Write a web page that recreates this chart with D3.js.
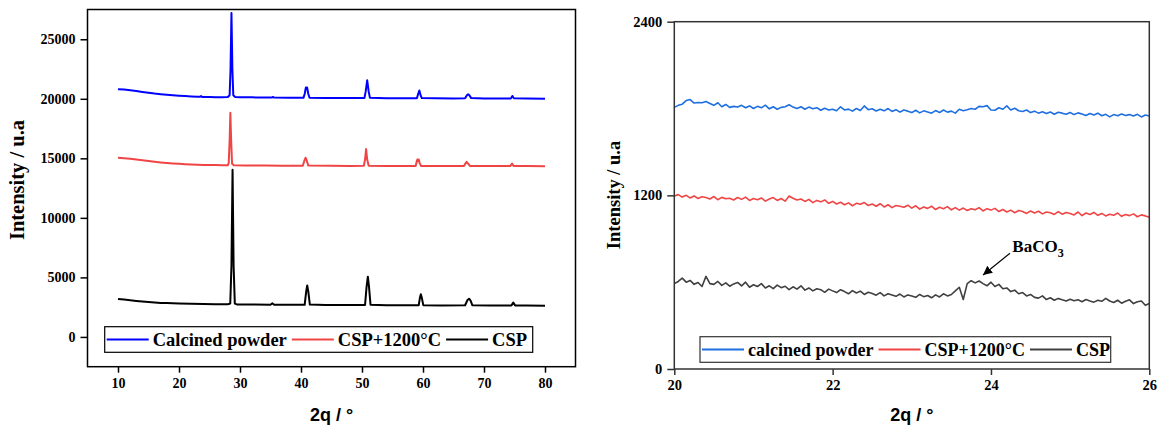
<!DOCTYPE html>
<html>
<head>
<meta charset="utf-8">
<script src="https://cdn.jsdelivr.net/npm/d3@7"></script>
<style>
  html, body { margin: 0; padding: 0; background: #fff; }
  svg { display: block; }
</style>
</head>
<body>
<svg id="chart" width="1160" height="427"></svg>
<script>
// ---------------- DATA ----------------
// Left panel: full XRD patterns, [2theta, intensity]
const seriesNamesLeft = ["Calcined powder", "CSP+1200°C", "CSP"];
const calcinedFull = [[10,20810],[11,20780],[12,20720],[13,20650],[14,20580],[15,20510],[16,20440],[17,20390],[18,20340],[19,20300],[20,20260],[21,20230],[22,20200],[23,20180],[23.4,20170],[23.6,20230],[23.8,20160],[25,20150],[26,20140],[27,20140],[28,20150],[28.3,20300],[28.45,22500],[28.6,27200],[28.75,22500],[28.9,20300],[29.2,20150],[30,20130],[32,20120],[34,20110],[35.2,20100],[35.4,20150],[35.6,20100],[38,20080],[40.4,20080],[40.6,20400],[40.8,20950],[41.0,20950],[41.2,20400],[41.4,20090],[44,20070],[47,20060],[50.4,20070],[50.6,20600],[50.85,21550],[51.1,20600],[51.3,20080],[54,20050],[57,20040],[59.0,20050],[59.2,20400],[59.4,20700],[59.6,20300],[59.8,20060],[62,20040],[65,20030],[66.9,20050],[67.2,20300],[67.4,20380],[67.6,20300],[67.9,20060],[70,20030],[72,20020],[74.4,20030],[74.65,20240],[74.9,20040],[77,20020],[80,20000]];
const csp1200Full = [[10,15040],[11,15010],[12,14960],[13,14900],[14,14840],[15,14780],[16,14720],[17,14660],[18,14610],[19,14570],[20,14540],[21,14510],[22,14490],[23,14470],[24,14450],[25,14440],[26,14430],[27,14420],[28,14420],[28.15,14600],[28.3,16500],[28.42,18820],[28.55,16500],[28.7,14550],[29,14420],[31,14400],[34,14390],[37,14380],[40.3,14380],[40.55,14800],[40.75,15050],[40.95,14800],[41.2,14390],[45,14370],[48,14360],[50.3,14370],[50.5,14900],[50.67,15780],[50.85,14900],[51.1,14380],[54,14360],[57,14350],[58.8,14360],[59.0,14800],[59.1,14910],[59.2,14750],[59.3,14900],[59.45,14600],[59.7,14360],[63,14350],[66.7,14360],[67.0,14600],[67.15,14710],[67.35,14580],[67.7,14360],[71,14350],[74.3,14350],[74.6,14570],[74.85,14360],[77,14350],[80,14345]];
const cspFull = [[10,3190],[11,3140],[12,3080],[13,3020],[14,2970],[15,2930],[16,2890],[17,2860],[18,2840],[19,2820],[20,2800],[22,2780],[24,2760],[26,2750],[28,2740],[28.4,2800],[28.6,6000],[28.78,14050],[28.95,6000],[29.15,2800],[29.5,2730],[32,2720],[35,2710],[35.3,2830],[35.6,2710],[38,2700],[40.6,2700],[40.85,3800],[41.02,4320],[41.2,3800],[41.45,2720],[44,2690],[47,2680],[50.5,2690],[50.75,4200],[50.96,5060],[51.15,4200],[51.4,2700],[54,2670],[57,2660],[59.3,2670],[59.5,3300],[59.64,3580],[59.8,3300],[60.05,2670],[63,2650],[66.9,2660],[67.3,3100],[67.55,3210],[67.8,3050],[68.1,2660],[71,2640],[74.5,2650],[74.8,2880],[75.1,2650],[77,2630],[80,2620]];
const leftXTicks = [10, 20, 30, 40, 50, 60, 70, 80];
const leftYTicks = [0, 5000, 10000, 15000, 20000, 25000];

// Right panel: zoom 20-26 deg, sampled every 0.05 deg starting at 20
const seriesNamesRight = ["calcined powder", "CSP+1200°C", "CSP"];
const zoomStart = 20, zoomStep = 0.05;
const calcinedZoom = [
  1808, 1822, 1830, 1855, 1862, 1838, 1842, 1840, 1848, 1835,
  1822, 1840, 1812, 1828, 1808, 1815, 1810, 1822, 1805, 1818,
  1800, 1815, 1805, 1823, 1798, 1812, 1795, 1808, 1812, 1826,
  1810, 1800, 1812, 1795, 1810, 1798, 1806, 1788, 1802, 1790,
  1795, 1785, 1812, 1790, 1796, 1782, 1800, 1786, 1818, 1792,
  1798, 1783, 1795, 1784, 1800, 1780, 1792, 1775, 1790, 1782,
  1772, 1788, 1770, 1784, 1776, 1768, 1786, 1772, 1790, 1775,
  1782, 1768, 1795, 1785, 1792, 1800, 1795, 1815, 1812, 1820,
  1790, 1788, 1805, 1795, 1818, 1790, 1802, 1785, 1780, 1790,
  1772, 1782, 1768, 1778, 1765, 1776, 1760, 1774, 1768, 1760,
  1772, 1758, 1770, 1762, 1752, 1766, 1755, 1768, 1750, 1760,
  1742, 1758, 1750, 1762, 1752, 1758, 1748, 1760, 1742, 1755,
  1748];
const csp1200Zoom = [
  1195, 1205, 1188, 1200, 1182, 1196, 1178, 1190, 1185, 1175,
  1192, 1170, 1186, 1176, 1180, 1168, 1185, 1172, 1188, 1165,
  1178, 1170, 1182, 1160, 1175, 1185, 1165, 1178, 1160, 1195,
  1180, 1168, 1175, 1158, 1172, 1150, 1165, 1155, 1168, 1145,
  1158, 1140, 1152, 1135, 1148, 1128, 1145, 1138, 1150, 1130,
  1140, 1125, 1142, 1120, 1135, 1115, 1130, 1125, 1118, 1132,
  1112, 1128, 1105, 1120, 1110, 1125, 1102, 1118, 1108, 1122,
  1100, 1115, 1098, 1112, 1095, 1108, 1100, 1115, 1092, 1108,
  1098, 1110, 1088, 1102, 1085, 1098, 1080, 1095, 1088, 1075,
  1092, 1078, 1090, 1072, 1085, 1080, 1068, 1088, 1070, 1082,
  1075, 1065, 1085, 1060, 1078, 1068, 1082, 1062, 1075, 1058,
  1070, 1062, 1078, 1055, 1068, 1060, 1072, 1052, 1065, 1058,
  1048];
const cspZoom = [
  590, 605, 628, 600, 612, 585, 598, 570, 640, 590,
  585, 605, 578, 595, 572, 588, 598, 575, 600, 565,
  582, 570, 590, 560, 575, 555, 580, 562, 572, 548,
  568, 552, 575, 545, 560, 540, 555, 548, 530, 552,
  540, 528, 548, 535, 520, 542, 525, 538, 515, 530,
  522, 510, 528, 505, 520, 512, 502, 518, 498, 512,
  505, 495, 515, 500, 508, 492, 512, 498, 520, 505,
  515, 540, 565, 480, 590, 610, 595, 608, 590, 575,
  600, 570, 585, 555, 560, 535, 545, 520, 528, 505,
  515, 495, 490, 505, 480, 492, 475, 488, 478, 470,
  482, 472, 478, 465, 480, 470, 462, 475, 468, 488,
  470, 460, 475, 455, 468, 478, 452, 465, 470, 440,
  452];
const rightXTicks = [20, 22, 24, 26];
const rightYTicks = [0, 1200, 2400];
const annotation = { label: "BaCO", sub: "3", tipTheta: 23.9, tipI: 650, tailTheta: 24.24, tailI: 800, textTheta: 24.27, textI: 808 };

// ---------------- STYLE ----------------
const serif = "'Liberation Serif', 'Times New Roman', serif";
const sans = "'Liberation Sans', Arial, sans-serif";
const leftColors = ["#0000ff", "#f04545", "#000000"];
const rightColors = ["#1f6fe0", "#f04545", "#404040"];

const svg = d3.select("#chart");
svg.append("rect").attr("width", 1160).attr("height", 427).attr("fill", "#fff");

function drawPanel(cfg) {
  const g = svg.append("g");
  const x = d3.scaleLinear().domain(cfg.xDomain).range([cfg.left, cfg.right]);
  const y = d3.scaleLinear().domain(cfg.yDomain).range([cfg.bottom, cfg.top]);

  const xa = g.append("g").attr("transform", `translate(0,${cfg.bottom})`)
    .call(d3.axisBottom(x).tickValues(cfg.xTicks).tickSize(6).tickPadding(5).tickFormat(d3.format("d")));
  const ya = g.append("g").attr("transform", `translate(${cfg.left},0)`)
    .call(d3.axisLeft(y).tickValues(cfg.yTicks).tickSize(7).tickPadding(5).tickFormat(d3.format("d")));
  [xa, ya].forEach(a => {
    a.select(".domain").remove();
    a.selectAll(".tick line").attr("stroke", cfg.frameColor).attr("stroke-width", 1.5);
    a.selectAll(".tick text").attr("fill", "#000").style("font-family", serif)
      .style("font-weight", "bold").style("font-size", cfg.tickFont + "px");
  });

  const line = d3.line().x(d => x(d[0])).y(d => y(d[1]));
  cfg.series.forEach((s, i) => {
    g.append("path").datum(s).attr("d", line).attr("fill", "none")
      .attr("stroke", cfg.colors[i]).attr("stroke-width", cfg.lineWidth)
      .attr("stroke-linejoin", "round");
  });

  g.append("rect").attr("x", cfg.left).attr("y", cfg.top)
    .attr("width", cfg.right - cfg.left).attr("height", cfg.bottom - cfg.top)
    .attr("fill", "none").attr("stroke", cfg.frameColor).attr("stroke-width", 1.5);

  g.append("text").attr("x", (cfg.left + cfg.right) / 2).attr("y", cfg.xTitleY)
    .attr("text-anchor", "middle").style("font-family", sans).style("font-size", "18px")
    .style("font-weight", "bold").text("2q / °");
  g.append("text").attr("transform", `translate(${cfg.yTitleX},${cfg.yTitleY}) rotate(-90)`)
    .attr("text-anchor", "middle").attr("dy", "0.35em").style("font-family", serif)
    .style("font-size", cfg.yTitleFont + "px").style("font-weight", "bold").text("Intensity / u.a");

  const lg = g.append("g");
  lg.append("rect").attr("x", cfg.legend.x0).attr("y", cfg.legend.y0)
    .attr("width", cfg.legend.x1 - cfg.legend.x0).attr("height", cfg.legend.y1 - cfg.legend.y0)
    .attr("fill", "#fff").attr("stroke", cfg.frameColor).attr("stroke-width", 1.2);
  const cy = (cfg.legend.y0 + cfg.legend.y1) / 2;
  let cx = cfg.legend.x0 + 2;
  cfg.names.forEach((n, i) => {
    lg.append("line").attr("x1", cx).attr("x2", cx + 42).attr("y1", cy).attr("y2", cy)
      .attr("stroke", cfg.colors[i]).attr("stroke-width", 2);
    cx += 46;
    const t = lg.append("text").attr("x", cx).attr("y", cy).attr("dy", "0.34em")
      .style("font-family", serif).style("font-size", cfg.legendFont + "px")
      .style("font-weight", "bold").text(n);
    cx += t.node().getComputedTextLength() + 5;
  });
  return { x, y, g };
}

drawPanel({
  left: 87.5, right: 575.5, top: 9.5, bottom: 366.7,
  xDomain: [5, 85], yDomain: [-2500, 27500],
  xTicks: leftXTicks, yTicks: leftYTicks,
  series: [calcinedFull, csp1200Full, cspFull], colors: leftColors, names: seriesNamesLeft,
  frameColor: "#000", tickFont: 14, lineWidth: 2,
  xTitleY: 421, yTitleX: 17, yTitleY: 180, yTitleFont: 20.5,
  legend: { x0: 104.7, x1: 532.7, y0: 326.7, y1: 352.3 }, legendFont: 18.5
});

const toPairs = arr => arr.map((v, i) => [zoomStart + i * zoomStep, v]);
const rp = drawPanel({
  left: 674.3, right: 1149.3, top: 21.7, bottom: 369,
  xDomain: [20, 26], yDomain: [0, 2400],
  xTicks: rightXTicks, yTicks: rightYTicks,
  series: [toPairs(calcinedZoom), toPairs(csp1200Zoom), toPairs(cspZoom)], colors: rightColors, names: seriesNamesRight,
  frameColor: "#333", tickFont: 14.5, lineWidth: 1.6,
  xTitleY: 421, yTitleX: 614, yTitleY: 195, yTitleFont: 18.5,
  legend: { x0: 700, x1: 1110.7, y0: 336.7, y1: 362.3 }, legendFont: 18
});

const defs = svg.append("defs");
defs.append("marker").attr("id", "arrow").attr("viewBox", "0 0 10 10").attr("refX", 10).attr("refY", 5)
  .attr("markerWidth", 9).attr("markerHeight", 9).attr("markerUnits", "userSpaceOnUse").attr("orient", "auto")
  .append("path").attr("d", "M0,0 L10,5 L0,10 z").attr("fill", "#000");
rp.g.append("line")
  .attr("x1", rp.x(annotation.tailTheta)).attr("y1", rp.y(annotation.tailI))
  .attr("x2", rp.x(annotation.tipTheta)).attr("y2", rp.y(annotation.tipI))
  .attr("stroke", "#000").attr("stroke-width", 1.2).attr("marker-end", "url(#arrow)");
const at = rp.g.append("text").attr("x", rp.x(annotation.textTheta)).attr("y", rp.y(annotation.textI))
  .style("font-family", serif).style("font-size", "17px").style("font-weight", "bold");
at.append("tspan").text(annotation.label);
at.append("tspan").attr("dy", 4.5).style("font-size", "12px").text(annotation.sub);
</script>
</body>
</html>
